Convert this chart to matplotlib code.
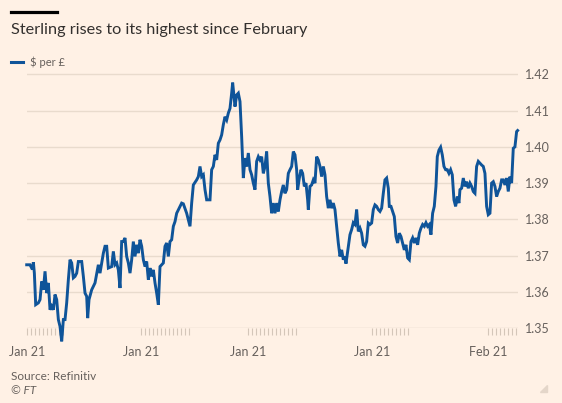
import numpy as np
import matplotlib
matplotlib.use('Agg')
import matplotlib.pyplot as plt
from matplotlib.patches import Polygon

# time index (intraday samples) and $ per £
t = [80, 90, 97, 100, 103, 107, 115, 120, 125, 130, 135, 140, 145, 150, 155, 160, 165, 170, 175, 180,
     185, 190, 195, 200, 205, 210, 215, 220, 225, 230, 235, 245, 250, 255, 260, 263, 267, 275, 285, 295,
     300, 305, 310, 315, 320, 325, 335, 340, 345, 350, 355, 360, 365, 370, 375, 380, 385, 390, 395, 400,
     405, 410, 415, 420, 425, 430, 435, 440, 445, 450, 455, 460, 465, 470, 475, 480, 490, 495, 500, 505,
     510, 515, 520, 525, 530, 540, 545, 550, 560, 570, 575, 580, 590, 595, 600, 605, 610, 615, 620, 630,
     635, 640, 645, 650, 655, 660, 665, 670, 675, 680, 685, 690, 695, 698, 702, 705, 710, 715, 720, 725,
     730, 735, 740, 745, 750, 755, 760, 765, 770, 775, 780, 785, 790, 795, 800, 805, 810,
     815, 820, 825, 830, 835, 840, 845, 850, 855, 860, 865, 870, 875, 880, 885, 890, 893, 898, 903, 908,
     913, 918, 923, 925, 930, 935, 940, 945, 950, 955, 960, 965, 970, 975, 980, 985, 990, 995, 1000, 1005,
     1010, 1015, 1020, 1025, 1030, 1035, 1038, 1045, 1050, 1055, 1060, 1065, 1070, 1075, 1080, 1085, 1090,
     1095, 1100, 1105, 1110, 1115, 1120, 1125, 1130, 1135, 1140, 1145, 1150, 1155, 1160, 1165, 1168, 1173,
     1178, 1183, 1188, 1193, 1198, 1203, 1208, 1213, 1218, 1223, 1228, 1233, 1238, 1243, 1248, 1253, 1258,
     1263, 1268, 1273, 1278, 1283, 1288, 1293, 1298, 1303, 1308, 1312, 1317, 1322, 1327, 1332, 1337, 1342,
     1347, 1352, 1357, 1362, 1367, 1372, 1377, 1380, 1385, 1390, 1395, 1400, 1405, 1410, 1415, 1420, 1425,
     1430, 1435, 1440, 1445, 1450, 1455, 1460, 1465, 1470, 1475, 1480, 1485, 1490, 1495, 1500, 1505, 1510,
     1515, 1520, 1525, 1530, 1535, 1540, 1545, 1550, 1553]
usd_per_gbp = [1.3675, 1.3675, 1.3662, 1.3682, 1.3652, 1.3565, 1.3570, 1.3579, 1.3629, 1.3606, 1.3657, 1.3597,
               1.3625, 1.3551, 1.3561, 1.3551, 1.3593, 1.3579, 1.3524, 1.3505, 1.3464, 1.3524, 1.3524, 1.3570,
               1.3634, 1.3689, 1.3680, 1.3639, 1.3643, 1.3652, 1.3684, 1.3684, 1.3643, 1.3597, 1.3588, 1.3528,
               1.3579, 1.3606, 1.3625, 1.3675, 1.3652, 1.3680, 1.3707, 1.3726, 1.3726, 1.3666, 1.3670, 1.3712,
               1.3675, 1.3680, 1.3661, 1.3611, 1.3739, 1.3739, 1.3749, 1.3698, 1.3680, 1.3652, 1.3689, 1.3739,
               1.3698, 1.3730, 1.3707, 1.3744, 1.3726, 1.3689, 1.3670, 1.3684, 1.3634, 1.3666, 1.3643, 1.3661,
               1.3625, 1.3597, 1.3565, 1.3670, 1.3680, 1.3726, 1.3735, 1.3698, 1.3739, 1.3744, 1.3781, 1.3794,
               1.3817, 1.3836, 1.3845, 1.3843, 1.3817, 1.3781, 1.3845, 1.3895, 1.3909, 1.3918, 1.3946, 1.3918,
               1.3923, 1.3882, 1.3854, 1.3854, 1.3937, 1.3946, 1.3978, 1.3964, 1.4010, 1.4019, 1.4033, 1.4061,
               1.4083, 1.4074, 1.4093, 1.4106, 1.4148, 1.4177, 1.4139, 1.4111, 1.4143, 1.4148, 1.4125, 1.4028,
               1.3914, 1.3969, 1.3946, 1.3983, 1.3937, 1.3923, 1.3900, 1.3882, 1.3960, 1.3973, 1.3964, 1.3973,
               1.3927, 1.3946, 1.3987, 1.3900, 1.3863,
               1.3817, 1.3845, 1.3817, 1.3845, 1.3822, 1.3854, 1.3877, 1.3895, 1.3872, 1.3882, 1.3927, 1.3937,
               1.3946, 1.3987, 1.3978, 1.3937, 1.3882, 1.3914, 1.3937, 1.3927, 1.3891, 1.3900, 1.3854, 1.3827,
               1.3891, 1.3895, 1.3909, 1.3900, 1.3973, 1.3964, 1.3946, 1.3918, 1.3946, 1.3923, 1.3863, 1.3831,
               1.3854, 1.3831, 1.3845, 1.3827, 1.3781, 1.3735, 1.3698, 1.3716, 1.3689, 1.3698, 1.3678, 1.3726,
               1.3758, 1.3772, 1.3791, 1.3786, 1.3827, 1.3767, 1.3776, 1.3762, 1.3730, 1.3726, 1.3739, 1.3790,
               1.3786, 1.3790, 1.3827, 1.3840, 1.3836, 1.3827, 1.3822, 1.3831, 1.3872, 1.3909, 1.3914, 1.3886,
               1.3836, 1.3836, 1.3822, 1.3808, 1.3753, 1.3735, 1.3762, 1.3753, 1.3735, 1.3716, 1.3730, 1.3694,
               1.3689, 1.3739, 1.3749, 1.3735, 1.3749, 1.3730, 1.3762, 1.3776, 1.3786, 1.3781, 1.3791, 1.3781,
               1.3786, 1.3758, 1.3817, 1.3836, 1.3891, 1.3973, 1.3991, 1.3999, 1.3978, 1.3946, 1.3937, 1.3937,
               1.3927, 1.3937, 1.3923, 1.3854, 1.3836, 1.3863, 1.3845, 1.3882, 1.3886, 1.3914, 1.3891, 1.3904,
               1.3886, 1.3900, 1.3891, 1.3877, 1.3872, 1.3946, 1.3960, 1.3955, 1.3950, 1.3946, 1.3927, 1.3836,
               1.3813, 1.3817, 1.3900, 1.3904, 1.3891, 1.3863, 1.3877, 1.3886, 1.3909, 1.3909, 1.3895, 1.3914,
               1.3877, 1.3918, 1.3900, 1.3996, 1.4000, 1.4042, 1.4045]

# week starts (labelled) and the daily ticks in each week
week_start = [81, 422, 743, 1115, 1464]
week_end = [195, 567, 890, 1230, 1554]
week_labels = ['Jan 21', 'Jan 21', 'Jan 21', 'Jan 21', 'Feb 21']
yticks = [1.35, 1.36, 1.37, 1.38, 1.39, 1.40, 1.41, 1.42]

bg = '#fff1e5'
blue = '#0f5499'
grey = '#66605c'
grid = '#e9dbcd'

plt.rcParams['font.family'] = ['Lato', 'DejaVu Sans']

fig = plt.figure(figsize=(5.62, 4.03), dpi=100, facecolor=bg)
ax = fig.add_axes([0.0475, 0.1854, 0.8747, 0.6528])
ax.set_facecolor(bg)

for yv in yticks:
    ax.axhline(yv, color=grid if yv > 1.35 else '#ddcfc2', lw=1, zorder=1)

ax.plot(t, usd_per_gbp, color=blue, lw=2.1, solid_joinstyle='miter', clip_on=False, zorder=3)

ax.set_xlim(80, 1555)
ax.set_ylim(1.35, 1.4225)
for s in ax.spines.values():
    s.set_visible(False)

minor = np.concatenate([np.arange(a, b + 1, 12) for a, b in zip(week_start, week_end)])
ax.set_xticks(week_start)
ax.set_xticklabels(week_labels)
ax.set_xticks(minor, minor=True)
ax.tick_params(axis='x', which='both', length=5, width=0.8, color='#d4c6b9', direction='out')
ax.tick_params(axis='x', which='major', pad=8, labelsize=9, labelcolor=grey)

ax.yaxis.tick_right()
ax.set_yticks(yticks)
ax.set_yticklabels(['%.2f' % v for v in yticks])
ax.tick_params(axis='y', length=0, pad=5, labelsize=9, labelcolor=grey)

# header
fig.add_artist(plt.Line2D([11 / 562, 57 / 562], [1 - 11.5 / 403] * 2, color='#000000', lw=2.3))
fig.text(11 / 562, 1 - 30 / 403, 'Sterling rises to its highest since February', fontsize=11.7,
         color='#33302e', va='center', ha='left')
fig.add_artist(plt.Line2D([11 / 562, 23 / 562], [1 - 62 / 403] * 2, color=blue, lw=2.2))
fig.text(30 / 562, 1 - 62 / 403, '$ per £', fontsize=8, color=grey, va='center', ha='left')

# footer
fig.text(11 / 562, 1 - 376 / 403, 'Source: Refinitiv', fontsize=8.5, color=grey, va='center')
fig.text(11 / 562, 1 - 390 / 403, '© FT', fontsize=8.5, color=grey, va='center', style='italic')
fig.add_artist(Polygon([[547 / 562, 1 - 385 / 403], [547 / 562, 1 - 392 / 403], [540 / 562, 1 - 392 / 403]],
                       closed=True, color='#e4d6c9', transform=fig.transFigure))

fig.savefig('out.png', dpi=100, facecolor=bg)
